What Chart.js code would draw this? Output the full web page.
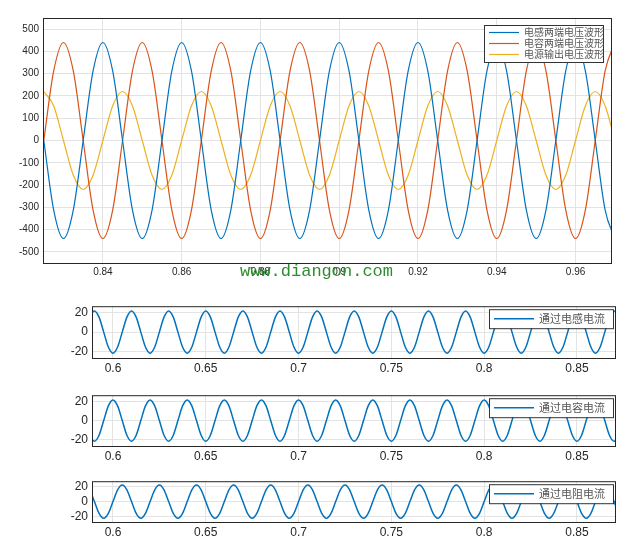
<!DOCTYPE html>
<html>
<head>
<meta charset="utf-8">
<script src="https://cdn.jsdelivr.net/npm/chart.js@4/dist/chart.umd.min.js"></script>
<style>
body { margin: 0; background: #fff; width: 636px; height: 552px; position: relative; overflow: hidden; }
.box { position: absolute; left: 0; width: 636px; }
#mark { position: absolute; left: 240px; top: 262px; font-family: "Liberation Mono", monospace; font-size: 17px; color: #2e8b2e; }
</style>
</head>
<body>
<div class="box" style="top:0;height:285px"><canvas id="top"></canvas></div>
<div class="box" style="top:295px;height:85px"><canvas id="c1"></canvas></div>
<div class="box" style="top:384px;height:84px"><canvas id="c2"></canvas></div>
<div class="box" style="top:470px;height:74px"><canvas id="c3"></canvas></div>
<div id="mark">www.diangon.com</div>
<script>
// top chart: voltages (time in s)
const topTimes = [
    0.8250,0.8275,0.8300,0.8325,0.8350,0.8375,0.8400,0.8425,
    0.8450,0.8475,0.8500,0.8525,0.8550,0.8575,0.8600,0.8625,
    0.8650,0.8675,0.8700,0.8725,0.8750,0.8775,0.8800,0.8825,
    0.8850,0.8875,0.8900,0.8925,0.8950,0.8975,0.9000,0.9025,
    0.9050,0.9075,0.9100,0.9125,0.9150,0.9175,0.9200,0.9225,
    0.9250,0.9275,0.9300,0.9325,0.9350,0.9375,0.9400,0.9425,
    0.9450,0.9475,0.9500,0.9525,0.9550,0.9575,0.9600,0.9625,
    0.9650,0.9675,0.9700];
const inductorV = [
    0,-311,-440,-311,0,311,440,311, 0,-311,-440,-311,0,311,440,311,
    0,-311,-440,-311,0,311,440,311, 0,-311,-440,-311,0,311,440,311,
    0,-311,-440,-311,0,311,440,311, 0,-311,-440,-311,0,311,440,311,
    0,-311,-440,-311,0,311,440,311, 0,-311,-440];
const capacitorV = [
    0,311,440,311,0,-311,-440,-311, 0,311,440,311,0,-311,-440,-311,
    0,311,440,311,0,-311,-440,-311, 0,311,440,311,0,-311,-440,-311,
    0,311,440,311,0,-311,-440,-311, 0,311,440,311,0,-311,-440,-311,
    0,311,440,311,0,-311,-440,-311, 0,311,440];
const sourceV = [
    220,156,0,-156,-220,-156,0,156, 220,156,0,-156,-220,-156,0,156,
    220,156,0,-156,-220,-156,0,156, 220,156,0,-156,-220,-156,0,156,
    220,156,0,-156,-220,-156,0,156, 220,156,0,-156,-220,-156,0,156,
    220,156,0,-156,-220,-156,0,156, 220,156,0];
const topLabels = ['电感两端电压波形', '电容两端电压波形', '电源输出电压波形'];
const topXTicks = [0.84,0.86,0.88,0.9,0.92,0.94,0.96];
const topYTicks = [-500,-400,-300,-200,-100,0,100,200,300,400,500];

// lower charts: currents
const lowTimes = [
    0.5850,0.5875,0.5900,0.5925,0.5950,0.5975,0.6000,0.6025,
    0.6050,0.6075,0.6100,0.6125,0.6150,0.6175,0.6200,0.6225,
    0.6250,0.6275,0.6300,0.6325,0.6350,0.6375,0.6400,0.6425,
    0.6450,0.6475,0.6500,0.6525,0.6550,0.6575,0.6600,0.6625,
    0.6650,0.6675,0.6700,0.6725,0.6750,0.6775,0.6800,0.6825,
    0.6850,0.6875,0.6900,0.6925,0.6950,0.6975,0.7000,0.7025,
    0.7050,0.7075,0.7100,0.7125,0.7150,0.7175,0.7200,0.7225,
    0.7250,0.7275,0.7300,0.7325,0.7350,0.7375,0.7400,0.7425,
    0.7450,0.7475,0.7500,0.7525,0.7550,0.7575,0.7600,0.7625,
    0.7650,0.7675,0.7700,0.7725,0.7750,0.7775,0.7800,0.7825,
    0.7850,0.7875,0.7900,0.7925,0.7950,0.7975,0.8000,0.8025,
    0.8050,0.8075,0.8100,0.8125,0.8150,0.8175,0.8200,0.8225,
    0.8250,0.8275,0.8300,0.8325,0.8350,0.8375,0.8400,0.8425,
    0.8450,0.8475,0.8500,0.8525,0.8550,0.8575,0.8600,0.8625,
    0.8650,0.8675,0.8700,0.8725,0.8750];
const inductorI = [
    0,15.6,22,15.6,0,-15.6,-22,-15.6, 0,15.6,22,15.6,0,-15.6,-22,-15.6,
    0,15.6,22,15.6,0,-15.6,-22,-15.6, 0,15.6,22,15.6,0,-15.6,-22,-15.6,
    0,15.6,22,15.6,0,-15.6,-22,-15.6, 0,15.6,22,15.6,0,-15.6,-22,-15.6,
    0,15.6,22,15.6,0,-15.6,-22,-15.6, 0,15.6,22,15.6,0,-15.6,-22,-15.6,
    0,15.6,22,15.6,0,-15.6,-22,-15.6, 0,15.6,22,15.6,0,-15.6,-22,-15.6,
    0,15.6,22,15.6,0,-15.6,-22,-15.6, 0,15.6,22,15.6,0,-15.6,-22,-15.6,
    0,15.6,22,15.6,0,-15.6,-22,-15.6, 0,15.6,22,15.6,0,-15.6,-22,-15.6,
    0,15.6,22,15.6,0];
const capacitorI = [
    0,-15.6,-22,-15.6,0,15.6,22,15.6, 0,-15.6,-22,-15.6,0,15.6,22,15.6,
    0,-15.6,-22,-15.6,0,15.6,22,15.6, 0,-15.6,-22,-15.6,0,15.6,22,15.6,
    0,-15.6,-22,-15.6,0,15.6,22,15.6, 0,-15.6,-22,-15.6,0,15.6,22,15.6,
    0,-15.6,-22,-15.6,0,15.6,22,15.6, 0,-15.6,-22,-15.6,0,15.6,22,15.6,
    0,-15.6,-22,-15.6,0,15.6,22,15.6, 0,-15.6,-22,-15.6,0,15.6,22,15.6,
    0,-15.6,-22,-15.6,0,15.6,22,15.6, 0,-15.6,-22,-15.6,0,15.6,22,15.6,
    0,-15.6,-22,-15.6,0,15.6,22,15.6, 0,-15.6,-22,-15.6,0,15.6,22,15.6,
    0,-15.6,-22,-15.6,0];
const resistorI = [
    22,15.6,0,-15.6,-22,-15.6,0,15.6, 22,15.6,0,-15.6,-22,-15.6,0,15.6,
    22,15.6,0,-15.6,-22,-15.6,0,15.6, 22,15.6,0,-15.6,-22,-15.6,0,15.6,
    22,15.6,0,-15.6,-22,-15.6,0,15.6, 22,15.6,0,-15.6,-22,-15.6,0,15.6,
    22,15.6,0,-15.6,-22,-15.6,0,15.6, 22,15.6,0,-15.6,-22,-15.6,0,15.6,
    22,15.6,0,-15.6,-22,-15.6,0,15.6, 22,15.6,0,-15.6,-22,-15.6,0,15.6,
    22,15.6,0,-15.6,-22,-15.6,0,15.6, 22,15.6,0,-15.6,-22,-15.6,0,15.6,
    22,15.6,0,-15.6,-22,-15.6,0,15.6, 22,15.6,0,-15.6,-22,-15.6,0,15.6,
    22,15.6,0,-15.6,-22];
const lowXTicks = [0.6,0.65,0.7,0.75,0.8,0.85];
const lowYTicks = [-20,0,20];

const blue = '#0072BD', red = '#D95319', yellow = '#EDB120';

function pts(xs, ys) {
    return xs.map((x, i) => ({ x: x, y: ys[i] }));
}

// box around plot area plus legend in top right corner
const boxLegend = {
    id: 'boxLegend',
    afterDraw(chart) {
        const ctx = chart.ctx, a = chart.chartArea, o = chart.options.plugins.boxLegend;
        ctx.save();
        ctx.strokeStyle = '#262626';
        ctx.lineWidth = 1;
        ctx.strokeRect(a.left + 0.5, a.top + 0.5, a.right - a.left, a.bottom - a.top);
        const ds = chart.data.datasets;
        const x0 = a.right - o.w - o.dx, y0 = a.top + o.dy;
        ctx.fillStyle = '#fff';
        ctx.fillRect(x0, y0, o.w, o.rowH * ds.length + 4);
        ctx.strokeStyle = '#333';
        ctx.strokeRect(x0 + 0.5, y0 + 0.5, o.w, o.rowH * ds.length + 4);
        ctx.font = o.font + 'px "Noto Sans CJK SC"';
        ctx.textBaseline = 'middle';
        ds.forEach((d, i) => {
            const y = y0 + 2 + o.rowH * (i + 0.5);
            ctx.strokeStyle = d.borderColor;
            ctx.lineWidth = d.borderWidth;
            ctx.beginPath();
            ctx.moveTo(x0 + 5, y);
            ctx.lineTo(x0 + 5 + o.line, y);
            ctx.stroke();
            ctx.fillStyle = '#555';
            ctx.fillText(d.label, x0 + 10 + o.line, y);
        });
        ctx.restore();
    }
};

function makeChart(id, datasets, xr, yr, xt, yt, yw, pad, leg) {
    const tickFont = { family: 'Arial, "Liberation Sans"', size: leg.tick };
    new Chart(document.getElementById(id), {
        type: 'line',
        data: { datasets: datasets },
        options: {
            animation: false,
            responsive: true,
            maintainAspectRatio: false,
            layout: { padding: pad },
            elements: { point: { radius: 0 }, line: { cubicInterpolationMode: 'monotone' } },
            plugins: { legend: { display: false }, tooltip: { enabled: false }, boxLegend: leg },
            scales: {
                x: {
                    type: 'linear', min: xr[0], max: xr[1],
                    afterBuildTicks: s => { s.ticks = xt.map(v => ({ value: v })); },
                    afterFit: s => { s.height = leg.xh; },
                    ticks: { font: tickFont, color: '#262626', maxRotation: 0, callback: v => String(v) },
                    grid: { color: '#e3e3e3', drawTicks: false },
                    border: { display: false }
                },
                y: {
                    min: yr[0], max: yr[1],
                    afterBuildTicks: s => { s.ticks = yt.map(v => ({ value: v })); },
                    afterFit: s => { s.width = yw; },
                    ticks: { font: tickFont, color: '#262626', padding: 4 },
                    grid: { color: '#e3e3e3', drawTicks: false },
                    border: { display: false }
                }
            }
        },
        plugins: [boxLegend]
    });
}

makeChart('top', [
    { label: topLabels[0], data: pts(topTimes, inductorV), borderColor: blue, borderWidth: 1.2 },
    { label: topLabels[1], data: pts(topTimes, capacitorV), borderColor: red, borderWidth: 1.2 },
    { label: topLabels[2], data: pts(topTimes, sourceV), borderColor: yellow, borderWidth: 1.2 }
], [0.8248, 0.969], [-550, 550], topXTicks, topYTicks, 43, { top: 18, right: 25, bottom: 0, left: 0 },
   { w: 119, dx: 8, dy: 7, rowH: 11, line: 30, font: 10, tick: 10, xh: 22 });

const lowPad = { top: 8, right: 21, bottom: 0, left: 0 };
const lowLeg = { w: 124, dx: 2, dy: 3, rowH: 15, line: 40, font: 11, tick: 12, xh: 22 };
makeChart('c1', [{ label: '通过电感电流', data: pts(lowTimes, inductorI), borderColor: blue, borderWidth: 1.5 }],
    [0.5887, 0.8705], [-27, 27], lowXTicks, lowYTicks, 92, lowPad, lowLeg);
makeChart('c2', [{ label: '通过电容电流', data: pts(lowTimes, capacitorI), borderColor: blue, borderWidth: 1.5 }],
    [0.5887, 0.8705], [-27, 27], lowXTicks, lowYTicks, 92, lowPad, lowLeg);
makeChart('c3', [{ label: '通过电阻电流', data: pts(lowTimes, resistorI), borderColor: blue, borderWidth: 1.5 }],
    [0.5887, 0.8705], [-27, 27], lowXTicks, lowYTicks, 92, lowPad, lowLeg);
</script>
</body>
</html>
